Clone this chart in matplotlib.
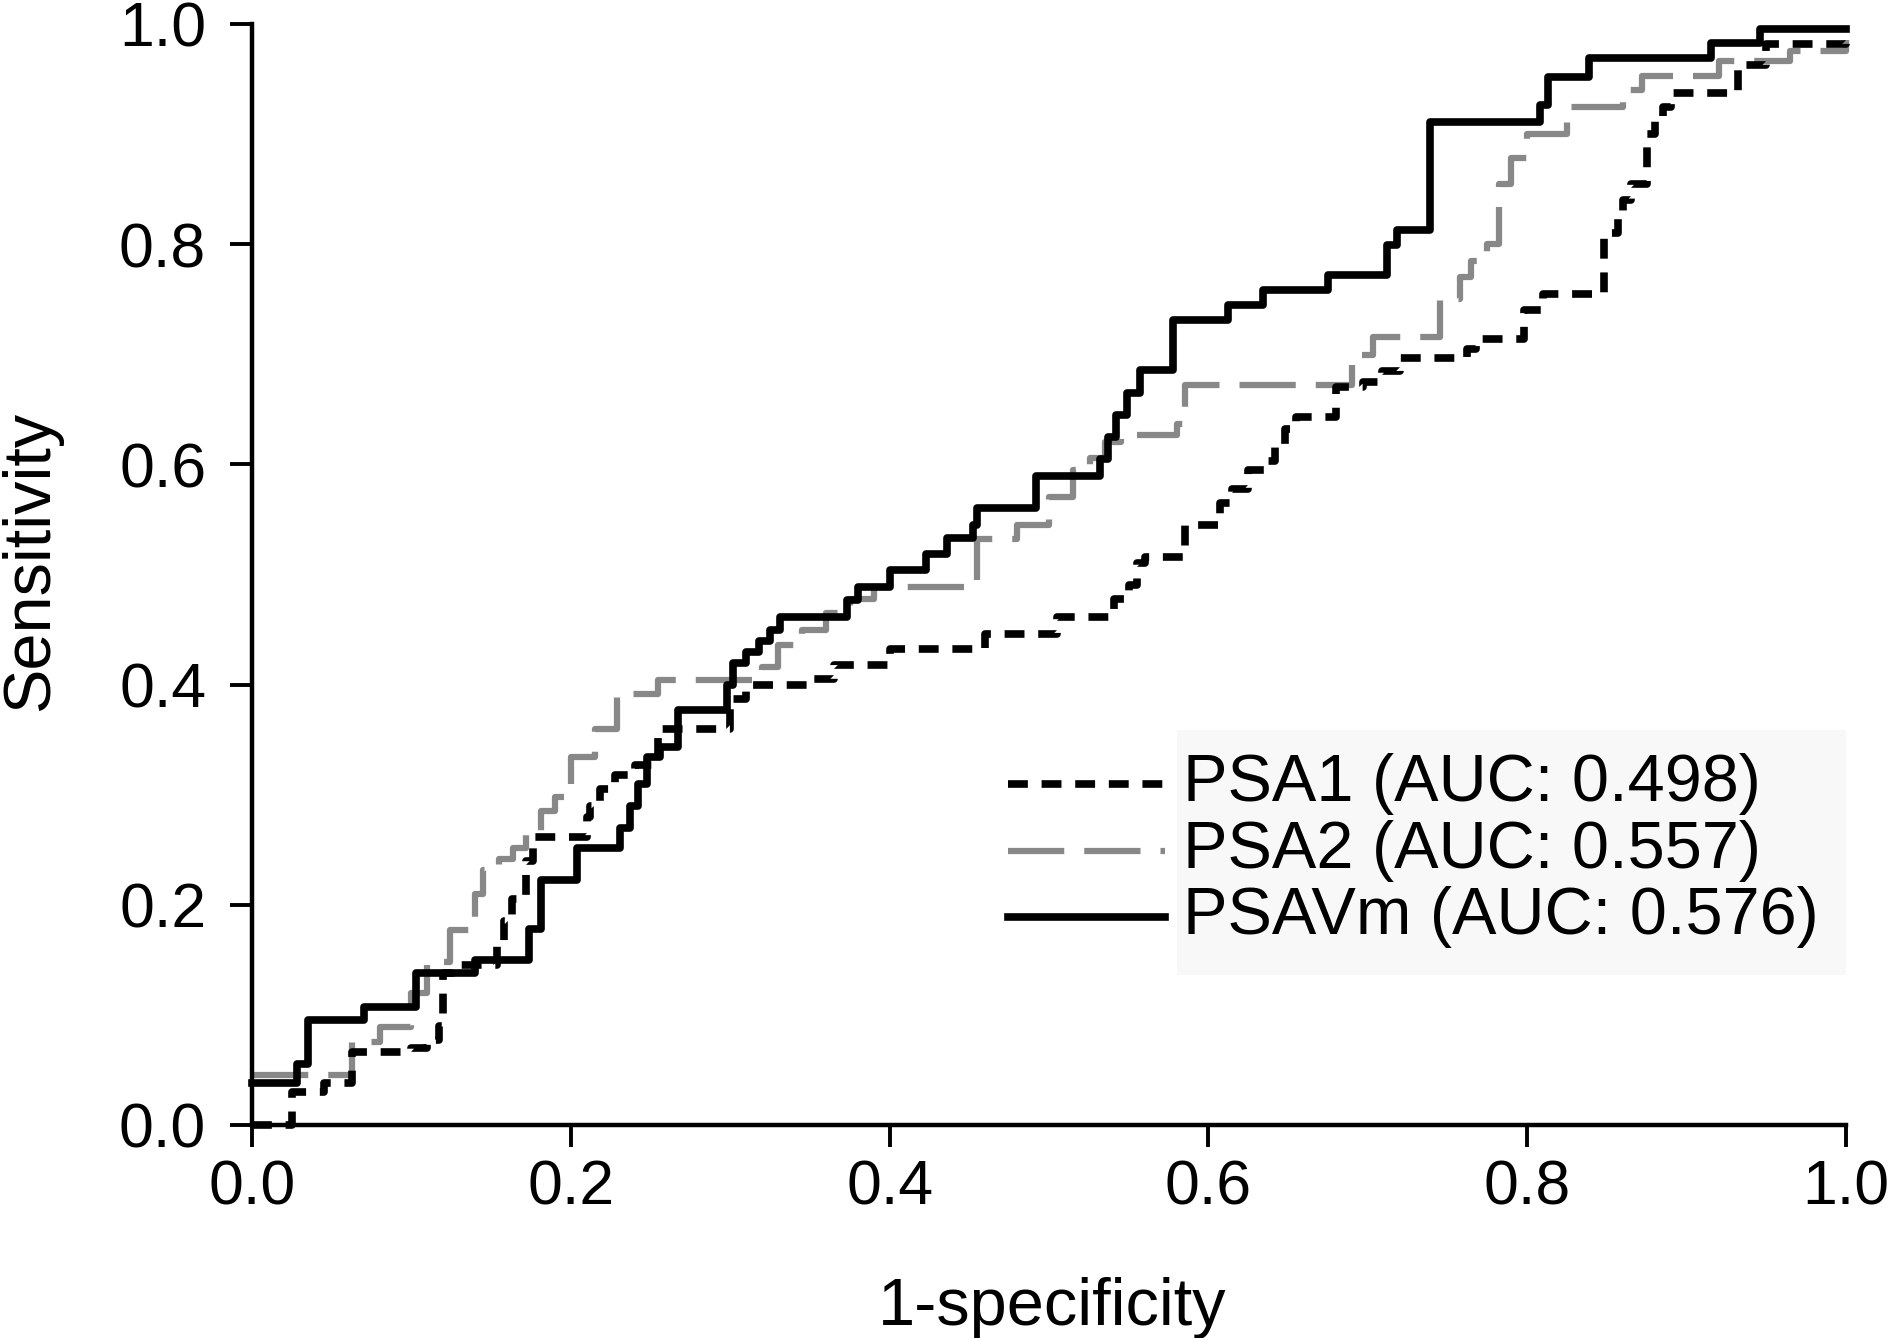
import matplotlib
matplotlib.use('Agg')
import matplotlib.pyplot as plt
from matplotlib.patches import Rectangle

plt.rcParams['font.family'] = ['Liberation Sans', 'DejaVu Sans']

# ROC step curves (1-specificity, sensitivity)
psa1_fpr = [0.0, 0.025, 0.045, 0.063, 0.10, 0.11, 0.117, 0.12, 0.126, 0.154, 0.158, 0.163,
            0.172, 0.176, 0.21, 0.212, 0.218, 0.228, 0.24, 0.255, 0.30, 0.31, 0.35, 0.365,
            0.40, 0.46, 0.505, 0.541, 0.55, 0.555, 0.56, 0.585, 0.607, 0.615, 0.625, 0.635,
            0.642, 0.648, 0.655, 0.68, 0.697, 0.709, 0.72, 0.762, 0.768, 0.798, 0.81, 0.848,
            0.857, 0.86, 0.865, 0.875, 0.88, 0.885, 0.89, 0.932, 0.95, 1.0]
psa1_tpr = [0.0, 0.03, 0.038, 0.066, 0.07, 0.077, 0.09, 0.138, 0.145, 0.165, 0.185, 0.205,
            0.24, 0.262, 0.28, 0.29, 0.305, 0.318, 0.327, 0.36, 0.387, 0.40, 0.405, 0.418,
            0.432, 0.446, 0.461, 0.478, 0.49, 0.51, 0.516, 0.545, 0.565, 0.578, 0.595, 0.603,
            0.617, 0.632, 0.643, 0.67, 0.675, 0.685, 0.697, 0.705, 0.714, 0.74, 0.755, 0.81,
            0.825, 0.84, 0.855, 0.90, 0.912, 0.925, 0.937, 0.963, 0.982, 0.985]

psa2_fpr = [0.0, 0.063, 0.08, 0.10, 0.11, 0.124, 0.14, 0.145, 0.155, 0.164, 0.172, 0.181,
            0.19, 0.20, 0.215, 0.229, 0.255, 0.32, 0.33, 0.345, 0.36, 0.375, 0.39, 0.455,
            0.48, 0.50, 0.515, 0.526, 0.535, 0.545, 0.58, 0.585, 0.69, 0.703, 0.745, 0.758,
            0.765, 0.775, 0.782, 0.79, 0.80, 0.825, 0.86, 0.872, 0.92, 0.965, 1.0]
psa2_tpr = [0.045, 0.075, 0.089, 0.12, 0.148, 0.177, 0.21, 0.232, 0.242, 0.252, 0.265, 0.285,
            0.298, 0.334, 0.36, 0.391, 0.404, 0.416, 0.436, 0.45, 0.465, 0.478, 0.489, 0.532,
            0.545, 0.57, 0.595, 0.606, 0.62, 0.627, 0.637, 0.672, 0.699, 0.716, 0.75, 0.77,
            0.785, 0.80, 0.855, 0.878, 0.90, 0.925, 0.94, 0.953, 0.966, 0.975, 0.985]

psavm_fpr = [0.0, 0.028, 0.035, 0.070, 0.103, 0.14, 0.174, 0.181, 0.204, 0.231, 0.237, 0.242,
             0.248, 0.256, 0.267, 0.298, 0.302, 0.31, 0.318, 0.325, 0.331, 0.373, 0.38, 0.40,
             0.423, 0.436, 0.452, 0.455, 0.492, 0.532, 0.537, 0.542, 0.549, 0.557, 0.578,
             0.612, 0.634, 0.675, 0.712, 0.718, 0.739, 0.808, 0.813, 0.839, 0.915, 0.946, 1.0]
psavm_tpr = [0.038, 0.055, 0.095, 0.107, 0.138, 0.15, 0.178, 0.2225, 0.2516, 0.27, 0.29, 0.31,
             0.334, 0.343, 0.377, 0.40, 0.42, 0.43, 0.44, 0.45, 0.461, 0.477, 0.489, 0.504,
             0.519, 0.533, 0.545, 0.56, 0.589, 0.605, 0.625, 0.645, 0.665, 0.686, 0.731,
             0.745, 0.758, 0.772, 0.799, 0.813, 0.911, 0.926, 0.952, 0.969, 0.983, 0.995, 0.995]

labels = ['PSA1 (AUC: 0.498)', 'PSA2 (AUC: 0.557)', 'PSAVm (AUC: 0.576)']

fig = plt.figure(figsize=(18.92, 13.38), dpi=100)
ax = fig.add_axes([0.1332, 0.1592, 0.8425, 0.8229])

styles = [
    dict(color='black', lw=5.5, dashes=(2.6, 1.8), zorder=3),
    dict(color='#888888', lw=4.5, dashes=(9, 3.2), zorder=2),
    dict(color='black', lw=5.5, linestyle='-', zorder=4),
]

curves = [(psa1_fpr, psa1_tpr), (psa2_fpr, psa2_tpr), (psavm_fpr, psavm_tpr)]
for (fx, ty), st in zip(curves, styles):
    ax.step(fx, ty, where='post', clip_on=False, **st)

ax.set_xlim(0, 1)
ax.set_ylim(0, 1)
ticks = [0.0, 0.2, 0.4, 0.6, 0.8, 1.0]
ax.set_xticks(ticks)
ax.set_yticks(ticks)
ax.set_xticklabels([f'{t:.1f}' for t in ticks])
ax.set_yticklabels([f'{t:.1f}' for t in ticks])
for s in ['top', 'right']:
    ax.spines[s].set_visible(False)
for s in ['left', 'bottom']:
    ax.spines[s].set_linewidth(3.2)
ax.tick_params(axis='both', direction='out', length=16, width=2.8, labelsize=45)
ax.tick_params(axis='x', pad=8)
ax.tick_params(axis='y', pad=17)

fig.text(31 / 1892, 1 - 561 / 1338, 'Sensitivity', rotation=90, ha='center', va='center', fontsize=48)
fig.text(1052 / 1892, 1 - 1325 / 1338, '1-specificity', ha='center', va='baseline', fontsize=48)

# hand-made legend with the faint grey box behind the labels
ax.add_patch(Rectangle((0.580, 0.136), 0.42, 0.223, transform=ax.transAxes,
                       facecolor='#f8f8f8', edgecolor='none', zorder=1, clip_on=False))
rows = [0.310, 0.249, 0.189]
for lab, st, yr in zip(labels, styles, rows):
    ax.plot([0.474, 0.573], [yr, yr], transform=ax.transAxes, clip_on=False, **st)
    ax.text(0.584, yr, lab, transform=ax.transAxes, ha='left', va='center', fontsize=48, zorder=5)

fig.savefig('out.png', dpi=100)
